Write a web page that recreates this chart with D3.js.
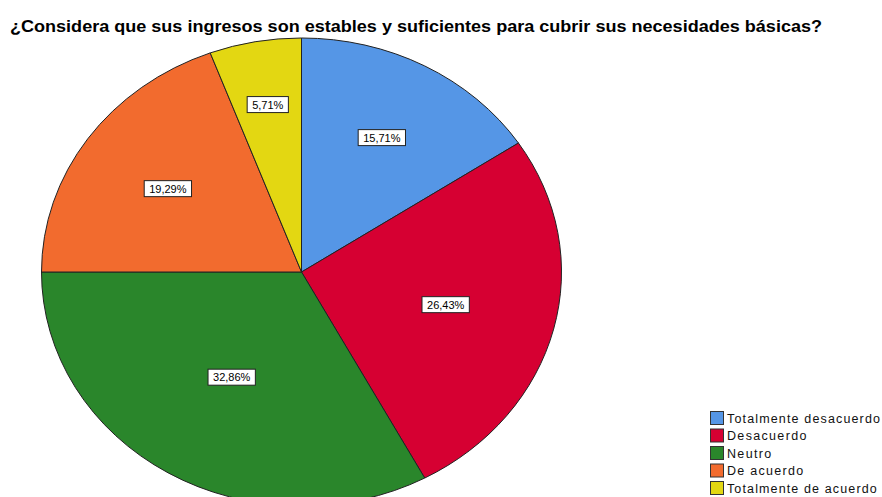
<!DOCTYPE html>
<html>
<head>
<meta charset="utf-8">
<script src="https://cdn.jsdelivr.net/npm/d3@7"></script>
<style>
  body { margin: 0; background: #fff; }
  svg { display: block; font-family: "Liberation Sans", Arial, sans-serif; }
</style>
</head>
<body>
<svg id="chart" width="882" height="497"></svg>
<script>
const title = '¿Considera que sus ingresos son estables y suficientes para cubrir sus necesidades básicas?';
const categories = ['Totalmente desacuerdo', 'Desacuerdo', 'Neutro', 'De acuerdo', 'Totalmente de acuerdo'];
const percents = [15.71, 26.43, 32.86, 19.29, 5.71];
const colors = ['#5596e6', '#d60032', '#2a862b', '#f26b2e', '#e3d712'];

const svg = d3.select('#chart');
const conf = { cx: 301.5, cy: 272, rx: 260, ry: 234 };

// title, stretched to the width SPSS draws it at
svg.append('text')
  .attr('x', 10).attr('y', 32)
  .attr('font-size', 16).attr('font-weight', 'bold')
  .attr('textLength', 812).attr('lengthAdjust', 'spacingAndGlyphs')
  .text(title);

const pie = d3.pie().sort(null).value(d => d)(percents);
const arc = d3.arc().innerRadius(0).outerRadius(conf.rx);

const g = svg.append('g')
  .attr('transform', `translate(${conf.cx},${conf.cy}) scale(1,${conf.ry / conf.rx})`);
g.selectAll('path')
  .data(pie)
  .enter()
  .append('path')
  .attr('d', arc)
  .attr('fill', (d, i) => colors[i])
  .attr('stroke', '#222')
  .attr('stroke-width', 1)
  .attr('vector-effect', 'non-scaling-stroke');

// percent labels in white boxes; smaller slices get their label pushed further out
const labelRadius = (p) => 0.77 - 0.0075 * p;
const labels = svg.append('g');
pie.forEach(function (d, i) {
  const a = (d.startAngle + d.endAngle) / 2;
  const f = labelRadius(percents[i]);
  const x = conf.cx + Math.sin(a) * conf.rx * f;
  const y = conf.cy - Math.cos(a) * conf.ry * f;
  const lg = labels.append('g').attr('transform', `translate(${x},${y})`);
  const rect = lg.append('rect');
  const t = lg.append('text')
    .attr('font-size', 11)
    .attr('text-anchor', 'middle')
    .attr('dominant-baseline', 'central')
    .text(percents[i].toFixed(2).replace('.', ',') + '%');
  const w = t.node().getComputedTextLength() + 10;
  rect.attr('x', -w / 2).attr('y', -8).attr('width', w).attr('height', 16)
    .attr('fill', '#fff').attr('stroke', '#222').attr('stroke-width', 1);
});

// legend
const legend = svg.append('g').attr('transform', 'translate(710,411)');
const rowH = 17.5;
const items = legend.selectAll('g')
  .data(categories)
  .enter()
  .append('g')
  .attr('transform', (d, i) => `translate(0,${i * rowH})`);
items.append('rect')
  .attr('x', 0.5).attr('y', 0.5).attr('width', 13).attr('height', 13)
  .attr('fill', (d, i) => colors[i])
  .attr('stroke', '#333').attr('stroke-width', 1);
const legText = items.append('text')
  .attr('x', 17).attr('y', 11.5)
  .attr('font-size', 12.5)
  .attr('fill', '#111')
  .text(d => d);
let widest = 0;
legText.each(function () { widest = Math.max(widest, this.getComputedTextLength()); });
const stretch = 153 / widest;
legText.each(function () {
  d3.select(this).attr('textLength', this.getComputedTextLength() * stretch);
});
</script>
</body>
</html>
